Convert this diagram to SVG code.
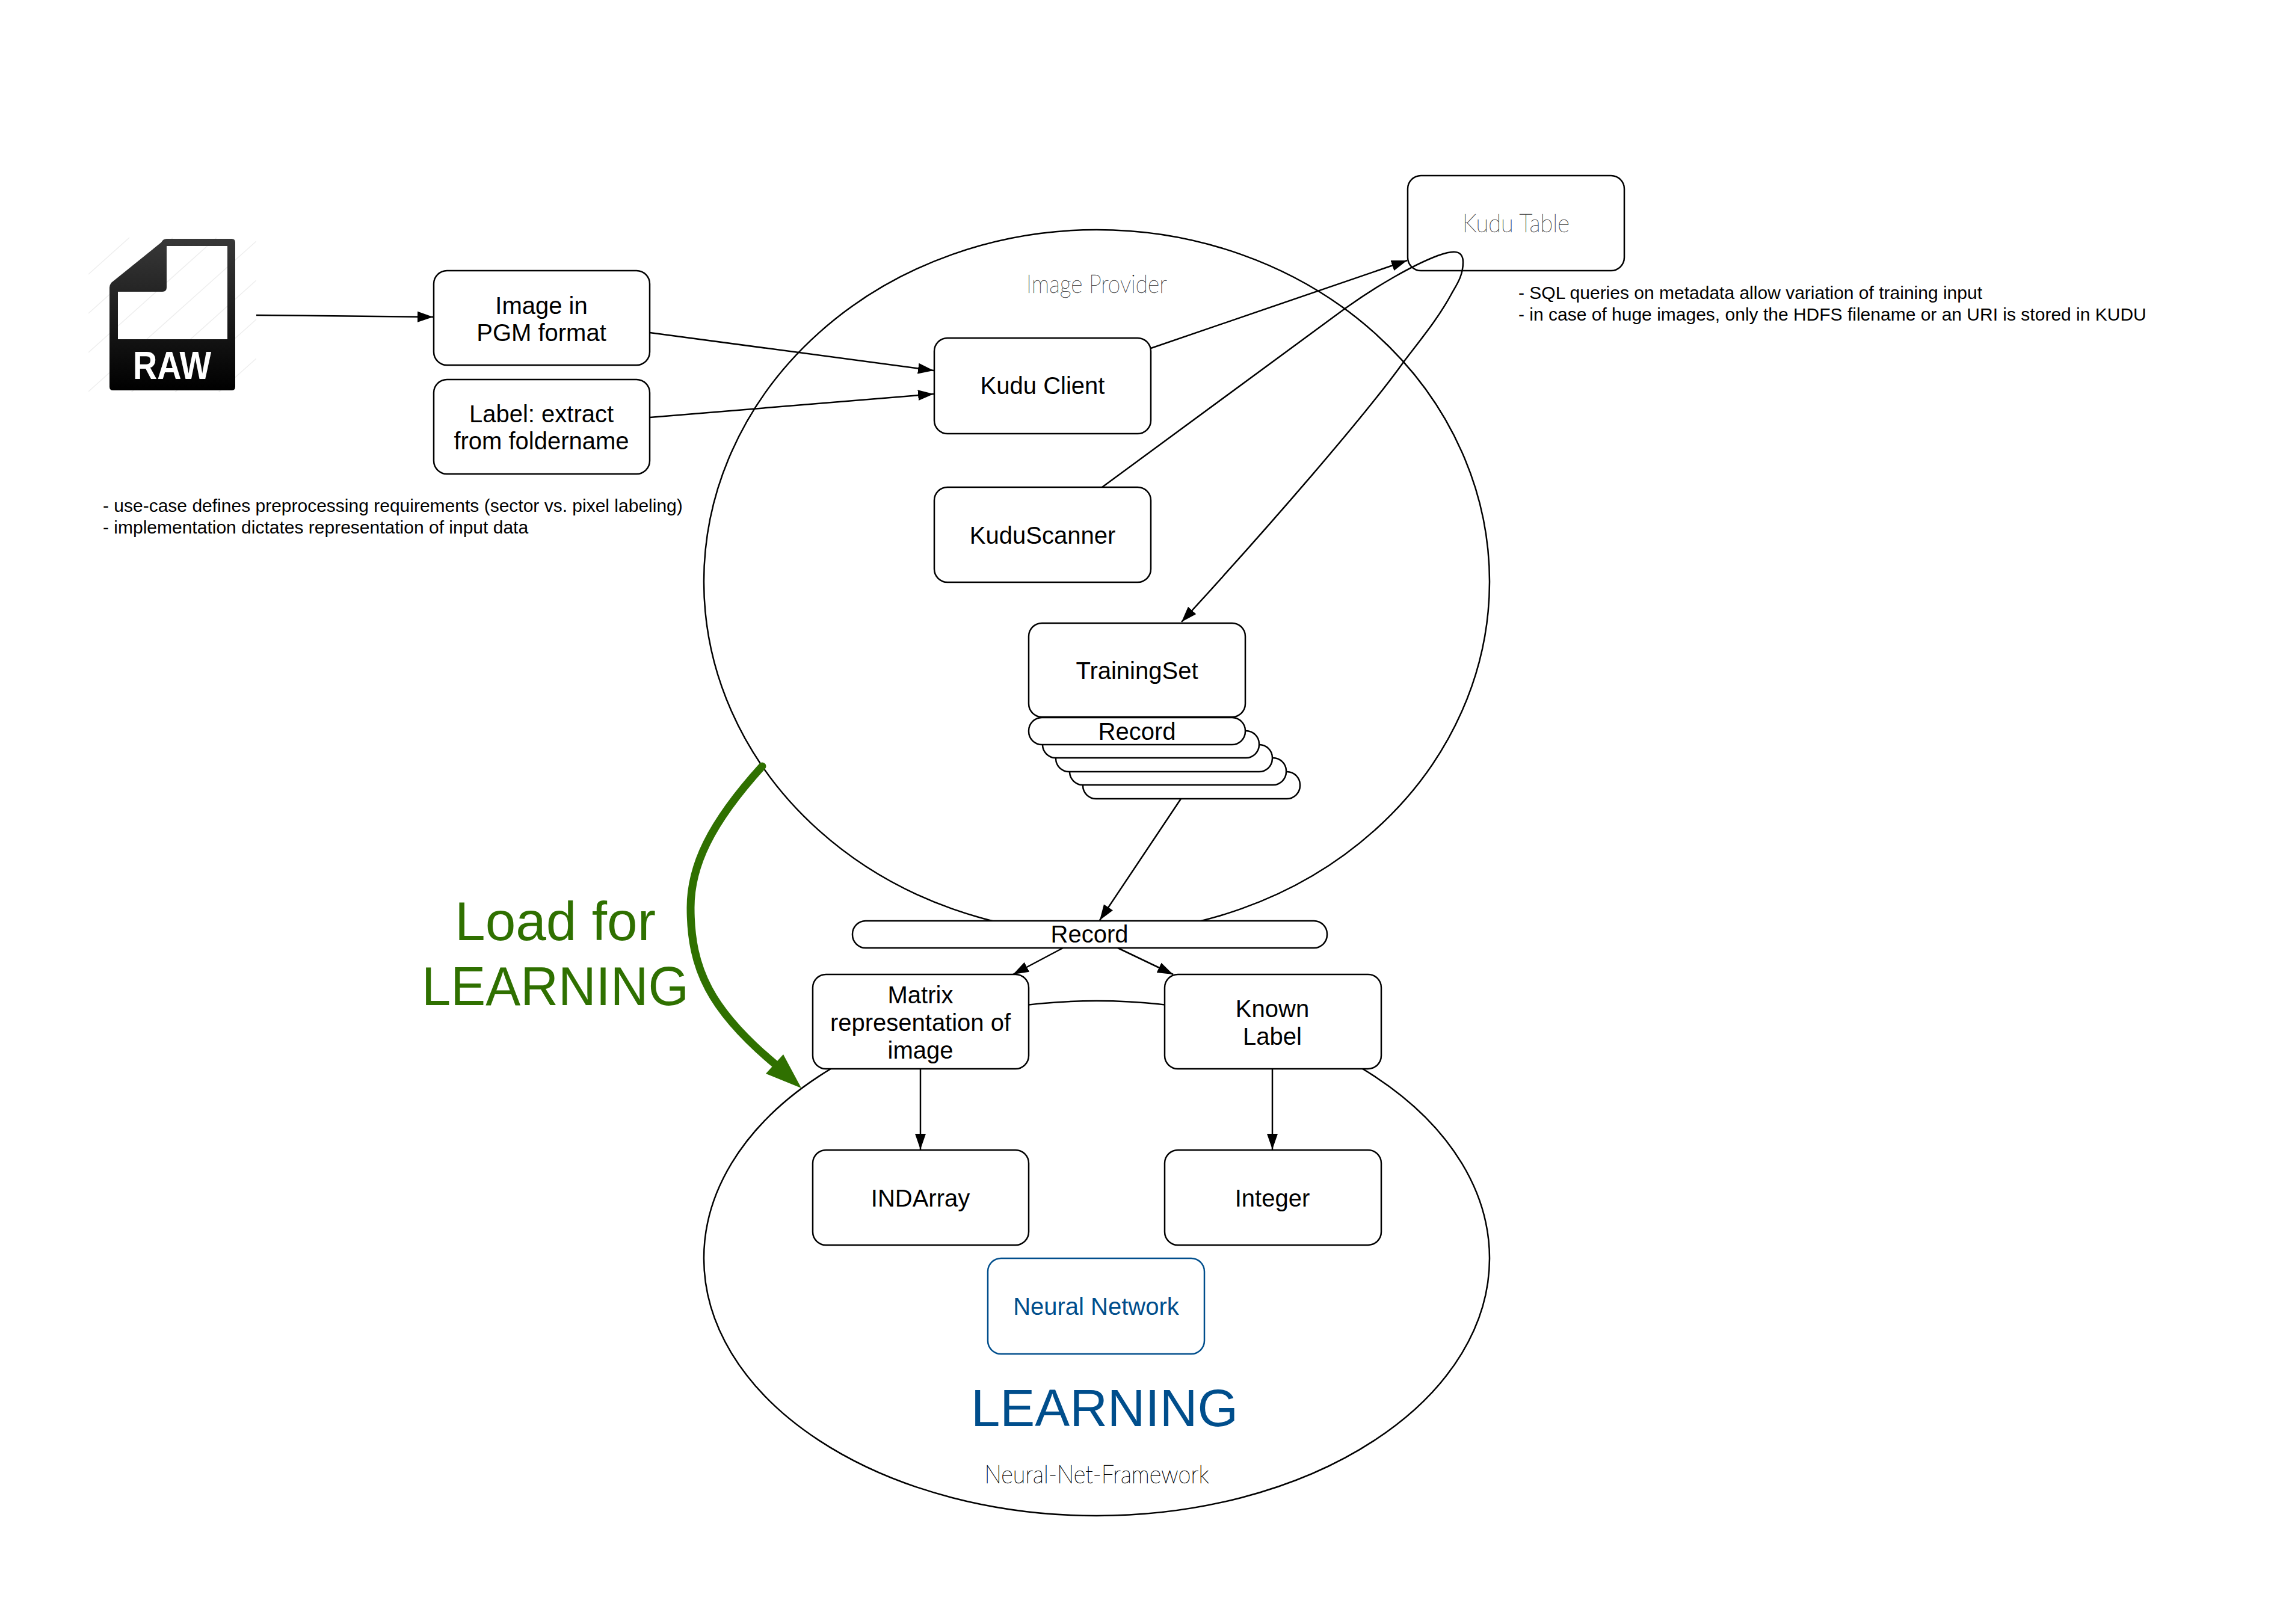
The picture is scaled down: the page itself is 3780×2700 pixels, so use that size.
<svg xmlns="http://www.w3.org/2000/svg" width="3780" height="2700" viewBox="0 0 3780 2700">
<style>
text{font-family:"Liberation Sans",Arial,sans-serif;font-size:40px;fill:#000;text-anchor:middle}
.box{fill:#fff;stroke:#000;stroke-width:2.5}
.ell{fill:none;stroke:#000;stroke-width:2.5}
.con{fill:none;stroke:#000;stroke-width:2.5;marker-end:url(#arrow)}
.note{font-size:30px;text-anchor:start}
.thin{font-family:"Lato","Liberation Sans",sans-serif;font-weight:100;font-size:42px}
.hatch{stroke:#eee;stroke-width:1.5}
</style>
<defs>
<marker id="arrow" markerUnits="userSpaceOnUse" markerWidth="28" markerHeight="20" refX="26" refY="10" orient="auto"><path d="M0,1L26,10L0,19Z" fill="#000"/></marker>
<linearGradient id="raw" x1="0" y1="0" x2="0" y2="1"><stop offset="0" stop-color="#383838"/><stop offset="1" stop-color="#000"/></linearGradient>
<clipPath id="hc"><rect x="147" y="395" width="279" height="257"/></clipPath>
</defs>
<g id="provider"><ellipse class="ell" cx="1823" cy="967" rx="653" ry="585"/><text class="thin" x="1823" y="487" textLength="234" lengthAdjust="spacingAndGlyphs" stroke="#444" stroke-width="0.4">Image Provider</text></g>
<g id="framework"><ellipse class="ell" cx="1823" cy="2092" rx="653" ry="428"/><text class="thin" x="1823" y="2466" textLength="373" lengthAdjust="spacingAndGlyphs" stroke="#000" stroke-width="0.6">Neural-Net-Framework</text></g>
<g id="raw-file">
<g clip-path="url(#hc)"><path class="hatch" d="M147,456L426,206M147,521L426,271M147,586L426,336M147,651L426,401M147,716L426,466M147,781L426,531M147,846L426,596"/></g>
<path fill="url(#raw)" fill-rule="evenodd" d="M268,403Q271,397 277,397H385Q391,397 391,403V643Q391,649 385,649H188Q182,649 182,643V478Q182,474 185,470ZM277,409V478Q277,485 270,485H196V564H378V409Z"/>
<text x="286" y="630" textLength="130" lengthAdjust="spacingAndGlyphs" style="fill:#fff;font-weight:700;font-size:64px">RAW</text>
</g>
<g id="image"><rect class="box" x="721" y="450" width="359" height="157" rx="22"/><text x="900" y="522">Image in</text><text x="900" y="567">PGM format</text></g>
<g id="label"><rect class="box" x="721" y="631" width="359" height="157" rx="22"/><text x="900" y="702">Label: extract</text><text x="900" y="747">from foldername</text></g>
<g id="notes-left"><text class="note" x="171" y="851">- use-case defines preprocessing requirements (sector vs. pixel labeling)</text><text class="note" x="171" y="887">- implementation dictates representation of input data</text></g>
<g id="kudu-table"><rect class="box" x="2340" y="292" width="360" height="158" rx="22" style="fill:none"/><text class="thin" x="2520" y="386" textLength="178" lengthAdjust="spacingAndGlyphs" stroke="#444" stroke-width="0.4">Kudu Table</text></g>
<g id="notes-right"><text class="note" x="2524" y="497">- SQL queries on metadata allow variation of training input</text><text class="note" x="2524" y="533">- in case of huge images, only the HDFS filename or an URI is stored in KUDU</text></g>
<g id="kudu-client"><rect class="box" x="1553" y="562" width="360" height="159" rx="22"/><text x="1733" y="655">Kudu Client</text></g>
<g id="kudu-scanner"><rect class="box" x="1553" y="810" width="360" height="158" rx="22"/><text x="1733" y="904">KuduScanner</text></g>
<g id="record-stack">
<rect class="box" x="1800" y="1283" width="361" height="45" rx="22"/>
<rect class="box" x="1778" y="1260" width="360" height="45" rx="22"/>
<rect class="box" x="1755" y="1238" width="360" height="45" rx="22"/>
<rect class="box" x="1733" y="1215" width="360" height="45" rx="22"/>
<rect class="box" x="1710" y="1193" width="360" height="45" rx="22"/>
<text x="1890" y="1230">Record</text>
</g>
<g id="training-set"><rect class="box" x="1710" y="1036" width="360" height="156" rx="22"/><text x="1890" y="1129">TrainingSet</text></g>
<g id="record"><rect class="box" x="1417" y="1531" width="789" height="45" rx="22"/><text x="1811" y="1567">Record</text></g>
<g id="matrix"><rect class="box" x="1351" y="1620" width="359" height="157" rx="22"/><text x="1530" y="1668">Matrix</text><text x="1530" y="1714">representation of</text><text x="1530" y="1760">image</text></g>
<g id="known"><rect class="box" x="1936" y="1620" width="360" height="157" rx="22"/><text x="2115" y="1691">Known</text><text x="2115" y="1737">Label</text></g>
<g id="indarray"><rect class="box" x="1351" y="1912" width="359" height="158" rx="22"/><text x="1530" y="2006">INDArray</text></g>
<g id="integer"><rect class="box" x="1936" y="1912" width="360" height="158" rx="22"/><text x="2115" y="2006">Integer</text></g>
<g id="neural-network"><rect class="box" x="1642" y="2092" width="360" height="159" rx="22" style="stroke:#004e8c"/><text x="1822" y="2186" style="fill:#004e8c">Neural Network</text></g>
<g id="learning"><text x="1836" y="2371" textLength="444" lengthAdjust="spacingAndGlyphs" style="fill:#004e8c;font-size:88px">LEARNING</text></g>
<g id="load"><text x="923" y="1563" style="fill:#2f7000;font-size:91px">Load for</text><text x="923" y="1671" textLength="444" lengthAdjust="spacingAndGlyphs" style="fill:#2f7000;font-size:90px">LEARNING</text></g>
<g id="connectors">
<path class="con" d="M426,524L720,527"/>
<path class="con" d="M1080,553L1552,616"/>
<path class="con" d="M1080,694L1552,655"/>
<path class="con" d="M1913,579L2339,433"/>
<path class="con" d="M1832,810L2233,515C2290,474 2350,440 2390,425C2410,418 2432,412 2432,436C2432,460 2420,475 2412,490C2390,530 2365,560 2333,602C2270,690 2110,875 1964,1034"/>
<path class="con" d="M1963,1328L1828,1530"/>
<path class="con" d="M1767,1576L1684,1620"/>
<path class="con" d="M1858,1576L1950,1620"/>
<path class="con" d="M1530,1777V1911"/>
<path class="con" d="M2115,1777V1911"/>
<path d="M1267,1274C1180,1370 1148,1440 1148,1509C1148,1610 1180,1680 1293,1773" fill="none" stroke="#2f7000" stroke-width="13" stroke-linecap="round"/>
<path d="M1332,1809L1302,1753L1273,1785Z" fill="#2f7000"/>
</g>
</svg>
